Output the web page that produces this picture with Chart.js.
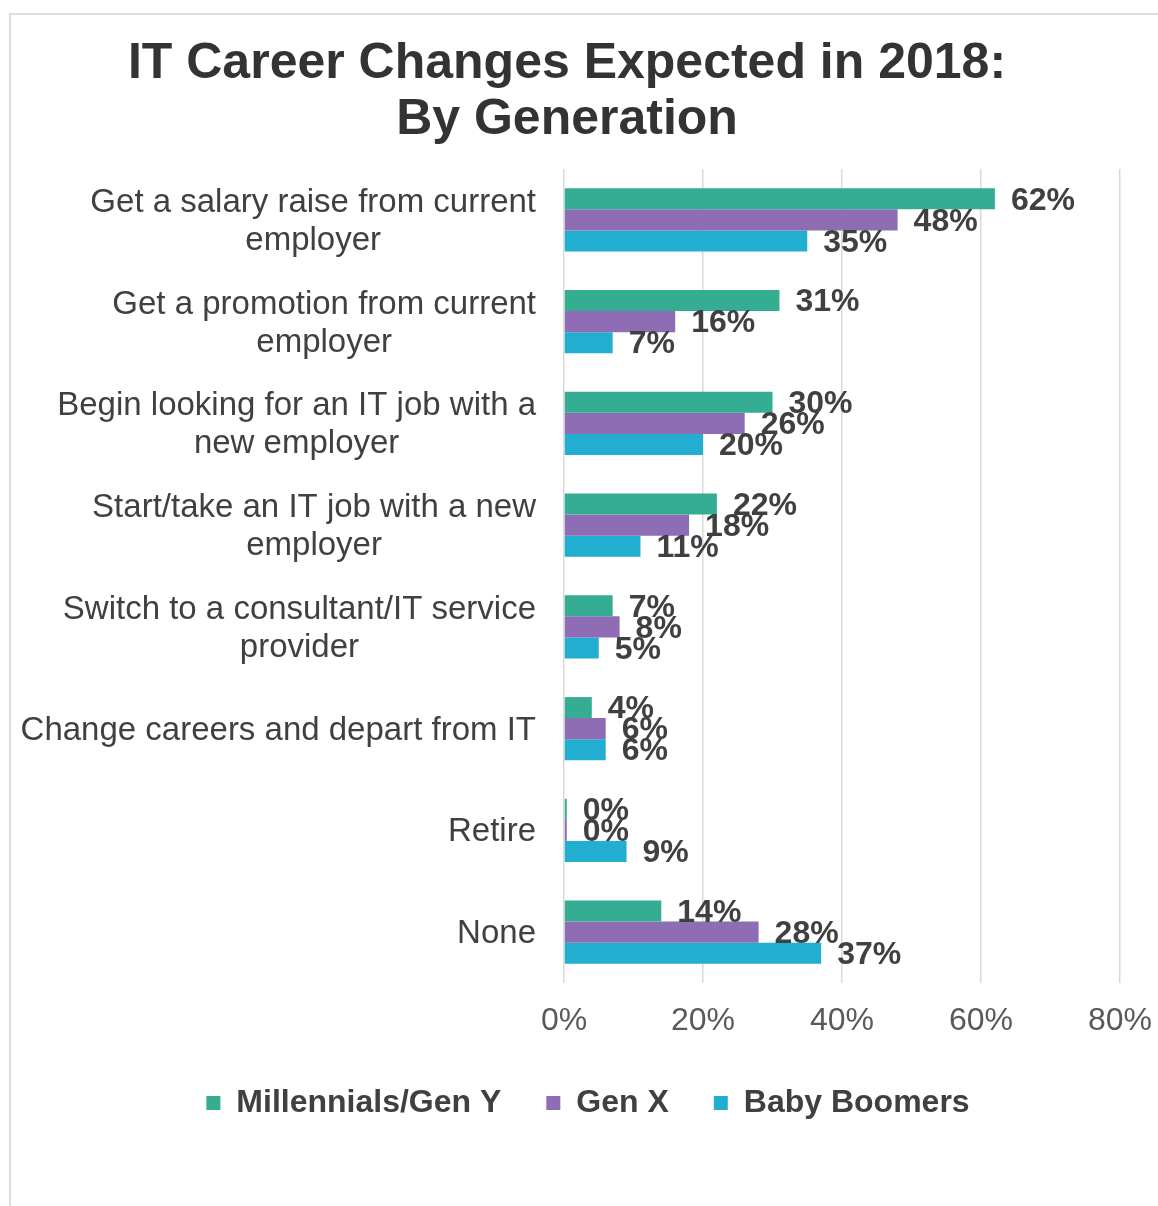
<!DOCTYPE html>
<html>
<head>
<meta charset="utf-8">
<title>IT Career Changes Expected in 2018</title>
<script src="https://cdn.jsdelivr.net/npm/chart.js@4/dist/chart.umd.min.js"></script>
<style>
    html, body { margin: 0; padding: 0; background: #fff; overflow: hidden; }
    .frame {
        position: absolute; left: 9px; top: 13px; width: 1300px; height: 1300px;
        border-left: 2px solid #dcdcdc; border-top: 2px solid #dcdcdc;
    }
    #wrap { position: absolute; left: 0; top: 0; width: 1158px; height: 1206px; }
</style>
</head>
<body>
<div class="frame"></div>
<div id="wrap"><canvas id="myChart" width="1158" height="1206"></canvas></div>
<script>
// categories, each one an array of lines like in the original
const categories = [
    ['Get a salary raise from current', 'employer'],
    ['Get a promotion from current', 'employer'],
    ['Begin looking for an IT job with a', 'new employer'],
    ['Start/take an IT job with a new', 'employer'],
    ['Switch to a consultant/IT service', 'provider'],
    ['Change careers and depart from IT'],
    ['Retire'],
    ['None']
];
const seriesNames = ['Millennials/Gen Y', 'Gen X', 'Baby Boomers'];
const millennials = [62, 31, 30, 22, 7, 4, 0.4, 14];
const genX = [48, 16, 26, 18, 8, 6, 0.4, 28];
const boomers = [35, 7, 20, 11, 5, 6, 9, 37];
const xTicks = [0, 20, 40, 60, 80];

const FONT = '"Liberation Sans", Arial, sans-serif';
Chart.defaults.font.family = FONT;

// draws the category names right aligned as a block, lines centered (like excel)
const categoryLabels = {
    id: 'categoryLabels',
    afterDraw(chart) {
        const ctx = chart.ctx;
        const yScale = chart.scales.y;
        const right = chart.chartArea.left - 28;
        const lineGap = 38;
        ctx.save();
        ctx.font = '33px ' + FONT;
        ctx.fillStyle = '#404040';
        ctx.textAlign = 'center';
        ctx.textBaseline = 'middle';
        categories.forEach((lines, i) => {
            const widest = Math.max(...lines.map(l => ctx.measureText(l).width));
            const cx = right - widest / 2;
            const cy = yScale.getPixelForValue(i) + 2;
            const top = cy - (lines.length - 1) * lineGap / 2;
            lines.forEach((line, j) => ctx.fillText(line, cx, top + j * lineGap));
        });
        ctx.restore();
    }
};

// value labels right of each bar
const valueLabels = {
    id: 'valueLabels',
    afterDatasetsDraw(chart) {
        const ctx = chart.ctx;
        ctx.save();
        ctx.font = 'bold 32px ' + FONT;
        ctx.fillStyle = '#404040';
        ctx.textAlign = 'left';
        ctx.textBaseline = 'middle';
        chart.data.datasets.forEach((ds, d) => {
            chart.getDatasetMeta(d).data.forEach((bar, i) => {
                ctx.fillText(Math.round(ds.data[i]) + '%', bar.x + 16, bar.y + 2);
            });
        });
        ctx.restore();
    }
};

// legend sits a bit right of the title centre in the original
const legendShift = {
    id: 'legendShift',
    afterLayout(chart) {
        chart.legend.left += 21;
        chart.legend.right += 21;
    }
};

const config = {
    type: 'bar',
    data: {
        labels: categories,
        datasets: [{
            label: seriesNames[0],
            data: millennials,
            backgroundColor: 'rgb(53,173,147)',
            borderWidth: 0
        }, {
            label: seriesNames[1],
            data: genX,
            backgroundColor: 'rgb(142,109,180)',
            borderWidth: 0
        }, {
            label: seriesNames[2],
            data: boomers,
            backgroundColor: 'rgb(33,174,208)',
            borderWidth: 0
        }]
    },
    options: {
        indexAxis: 'y',
        responsive: false,
        animation: false,
        categoryPercentage: 0.62,
        barPercentage: 1.0,
        layout: {
            padding: { left: 14, right: 38, top: 16, bottom: 77 }
        },
        scales: {
            x: {
                min: xTicks[0],
                max: xTicks[xTicks.length - 1],
                ticks: {
                    stepSize: xTicks[1] - xTicks[0],
                    callback: v => v + '%',
                    font: { size: 32, lineHeight: 2.4 },
                    color: '#595959',
                    padding: 0
                },
                grid: { color: '#d9d9d9', lineWidth: 1.5, drawTicks: false },
                border: { display: false },
                afterFit: s => { s.height = 59; }
            },
            y: {
                ticks: { display: false },
                grid: { display: false, drawTicks: false },
                border: { display: false },
                afterFit: s => { s.width = 550; }
            }
        },
        plugins: {
            title: {
                display: true,
                text: ['IT Career Changes Expected in 2018:', 'By Generation'],
                color: '#333333',
                font: { size: 50, weight: 'bold', lineHeight: 1.12 },
                padding: { top: 20, bottom: 21 }
            },
            legend: {
                position: 'bottom',
                labels: {
                    boxWidth: 14,
                    boxHeight: 14,
                    padding: 45,
                    color: '#404040',
                    font: { size: 32, weight: 'bold' }
                }
            },
            tooltip: { enabled: false }
        }
    },
    plugins: [categoryLabels, valueLabels, legendShift]
};

const chart = new Chart(document.getElementById('myChart').getContext('2d'), config);
</script>
</body>
</html>
